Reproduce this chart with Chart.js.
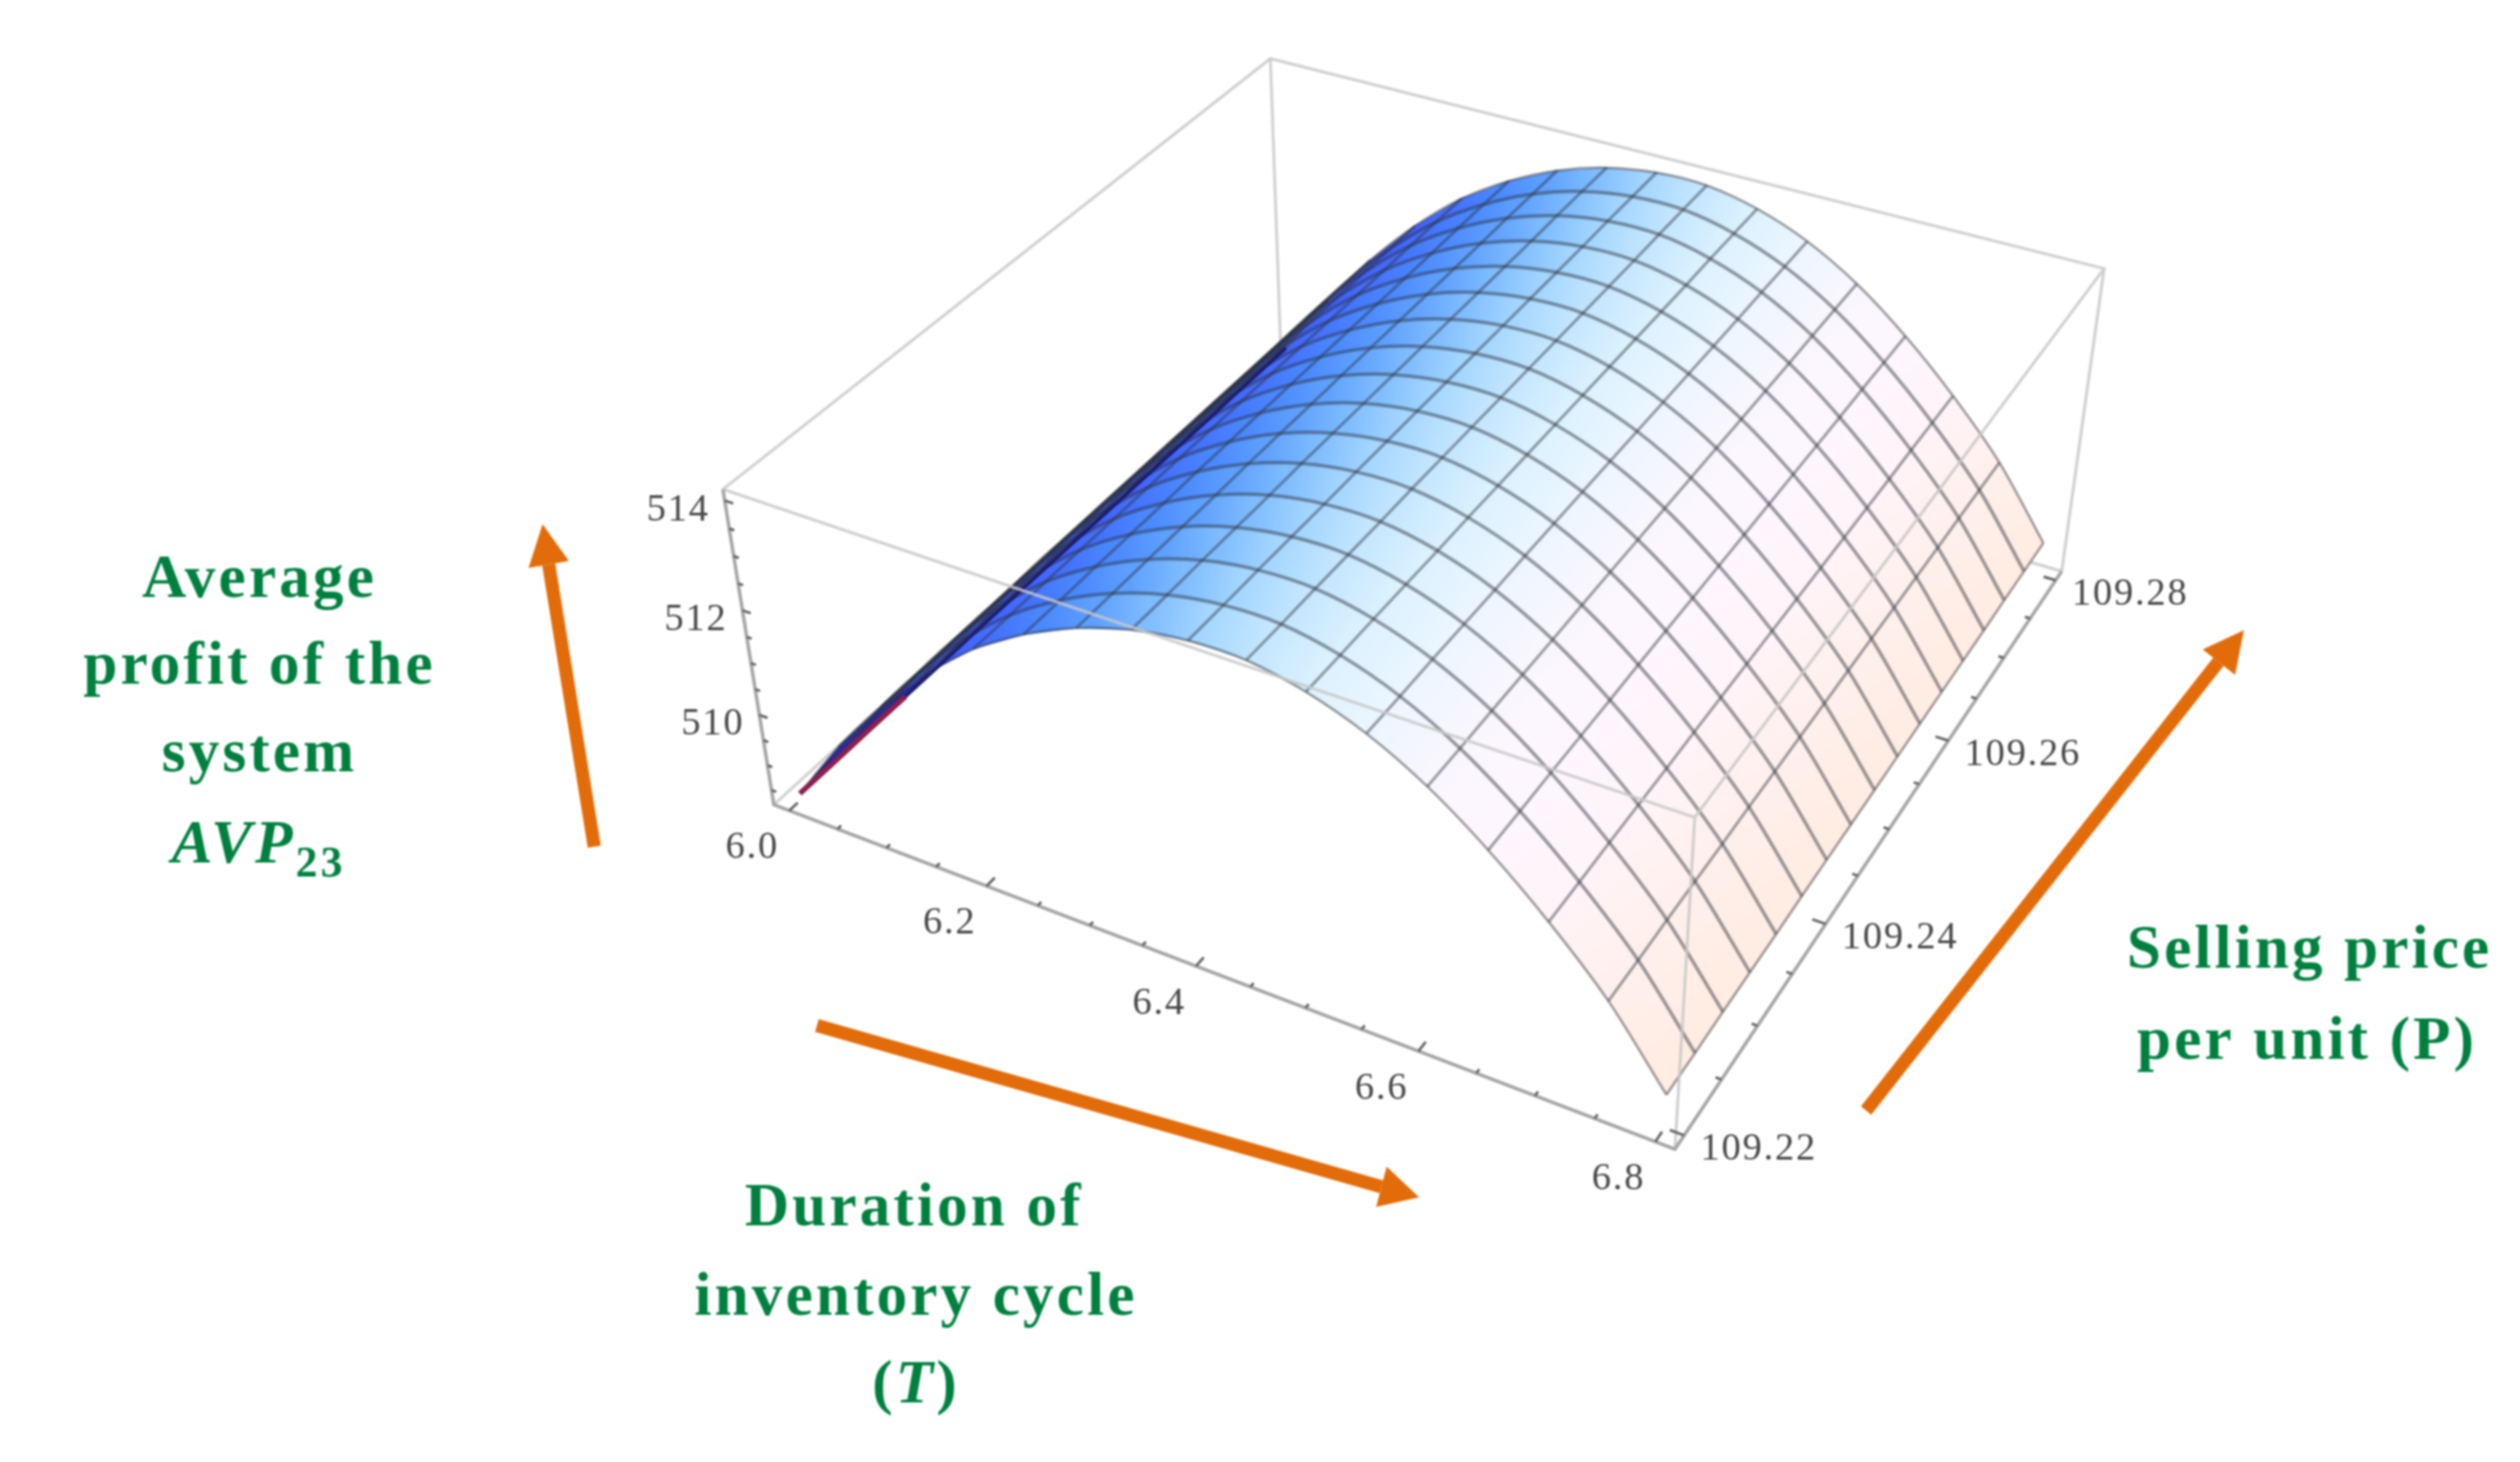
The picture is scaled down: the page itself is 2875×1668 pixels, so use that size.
<!DOCTYPE html>
<html>
<head>
<meta charset="utf-8">
<title>AVP23 surface</title>
<script src="https://cdn.jsdelivr.net/npm/chart.js@4/dist/chart.umd.min.js"></script>
<style>
  html, body { margin: 0; background: #fff; }
  canvas { display: block; filter: blur(1px); }
</style>
</head>
<body>
<canvas id="surface" width="2875" height="1668"></canvas>
<script>
// mesh nodes of the surface
const cycleT = [6.0, 6.05, 6.1, 6.15, 6.2, 6.25, 6.3, 6.35, 6.4, 6.45, 6.5, 6.55, 6.6, 6.65, 6.7, 6.75, 6.8];
const priceP = [109.22, 109.22375, 109.2275, 109.23125, 109.235, 109.23875, 109.2425, 109.24625, 109.25, 109.25375, 109.2575, 109.26125, 109.265, 109.26875, 109.2725, 109.27625, 109.28];

// AVP23, one row per price, one column per cycle length
const profit = [
  [508.33, 509.63, 510.76, 511.73, 512.53, 513.13, 513.58, 513.88, 514.03, 514.03, 513.83, 513.46, 512.90, 512.15, 511.25, 510.20, 508.85],
  [508.33, 509.63, 510.76, 511.73, 512.53, 513.13, 513.58, 513.88, 514.03, 514.03, 513.83, 513.46, 512.90, 512.15, 511.25, 510.20, 508.85],
  [508.34, 509.64, 510.77, 511.74, 512.54, 513.14, 513.59, 513.89, 514.04, 514.04, 513.84, 513.47, 512.91, 512.16, 511.26, 510.21, 508.86],
  [508.34, 509.64, 510.77, 511.74, 512.54, 513.14, 513.59, 513.89, 514.04, 514.04, 513.84, 513.47, 512.91, 512.16, 511.26, 510.21, 508.86],
  [508.34, 509.64, 510.77, 511.74, 512.54, 513.14, 513.59, 513.89, 514.04, 514.04, 513.84, 513.47, 512.91, 512.16, 511.26, 510.21, 508.86],
  [508.35, 509.65, 510.78, 511.75, 512.55, 513.15, 513.60, 513.90, 514.05, 514.05, 513.85, 513.48, 512.92, 512.17, 511.27, 510.22, 508.87],
  [508.35, 509.65, 510.78, 511.75, 512.55, 513.15, 513.60, 513.90, 514.05, 514.05, 513.85, 513.48, 512.92, 512.17, 511.27, 510.22, 508.87],
  [508.35, 509.65, 510.78, 511.75, 512.55, 513.15, 513.60, 513.90, 514.05, 514.05, 513.85, 513.48, 512.92, 512.17, 511.27, 510.22, 508.87],
  [508.35, 509.65, 510.78, 511.75, 512.55, 513.15, 513.60, 513.90, 514.05, 514.05, 513.85, 513.48, 512.92, 512.17, 511.27, 510.22, 508.87],
  [508.35, 509.65, 510.78, 511.75, 512.55, 513.15, 513.60, 513.90, 514.05, 514.05, 513.85, 513.48, 512.92, 512.17, 511.27, 510.22, 508.87],
  [508.35, 509.65, 510.78, 511.75, 512.55, 513.15, 513.60, 513.90, 514.05, 514.05, 513.85, 513.48, 512.92, 512.17, 511.27, 510.22, 508.87],
  [508.35, 509.65, 510.78, 511.75, 512.55, 513.15, 513.60, 513.90, 514.05, 514.05, 513.85, 513.48, 512.92, 512.17, 511.27, 510.22, 508.87],
  [508.35, 509.65, 510.78, 511.75, 512.55, 513.15, 513.60, 513.90, 514.05, 514.05, 513.85, 513.48, 512.92, 512.17, 511.27, 510.22, 508.87],
  [508.35, 509.65, 510.78, 511.75, 512.55, 513.15, 513.60, 513.90, 514.05, 514.05, 513.85, 513.48, 512.92, 512.17, 511.27, 510.22, 508.87],
  [508.36, 509.66, 510.79, 511.76, 512.56, 513.16, 513.61, 513.91, 514.06, 514.06, 513.86, 513.49, 512.93, 512.18, 511.28, 510.23, 508.88],
  [508.36, 509.66, 510.79, 511.76, 512.56, 513.16, 513.61, 513.91, 514.06, 514.06, 513.86, 513.49, 512.93, 512.18, 511.28, 510.23, 508.88],
  [508.36, 509.66, 510.79, 511.76, 512.56, 513.16, 513.61, 513.91, 514.06, 514.06, 513.86, 513.49, 512.93, 512.18, 511.28, 510.23, 508.88]
];

// axis ticks
const tLabels = ["6.0", "6.2", "6.4", "6.6", "6.8"];
const pLabels = ["109.22", "109.24", "109.26", "109.28"];
const zLabels = ["510", "512", "514"];
const tMinor = [6.05, 6.1, 6.15, 6.25, 6.3, 6.35, 6.45, 6.5, 6.55, 6.65, 6.7, 6.75];
const pMinor = [109.225, 109.23, 109.235, 109.245, 109.25, 109.255, 109.265, 109.27, 109.275];
const zMinor = [508.5, 509, 509.5, 510.5, 511, 511.5, 512.5, 513, 513.5];

// box limits (plot range + padding)
const boxT = [5.984, 6.816];
const boxP = [109.2188, 109.2812];
const boxZ = [508.2, 514.2];

// where box corners land in the plot: u, v, w in box fractions, then x, y
const corners = [
  [0, 0, 1, 825, 557], [1, 0, 1, 1933, 933], [1, 1, 1, 2401, 307], [0, 1, 1, 1449, 67],
  [0, 0, 0, 883, 919], [1, 0, 0, 1911, 1311], [1, 1, 0, 2352, 651]
];

// surface colour at each cycle node
const shades = ["#20208a", "#2e2fc0", "#3a48f0", "#3f5cff", "#4470ff", "#4a88ff", "#5ea0ff", "#7fbcff", "#a4d6ff",
  "#c4e6ff", "#dcf2ff", "#ecf6ff", "#faf6ff", "#fef6ff", "#fff4f8", "#fff0ec", "#ffece2"];

// least squares fit of the projective camera to the corners
function fitCamera(pts) {
  const rows = [];
  pts.forEach(([u, v, w, px, py]) => {
    const x = px / 1000, y = py / 1000;
    rows.push([u, v, w, 1, 0, 0, 0, 0, -x * u, -x * v, -x * w, x]);
    rows.push([0, 0, 0, 0, u, v, w, 1, -y * u, -y * v, -y * w, y]);
  });
  const n = 11;
  const m = [];
  for (let a = 0; a < n; a++) {
    m.push([]);
    for (let b = 0; b <= n; b++) {
      let s = 0;
      rows.forEach(r => { s += r[a] * r[b]; });
      m[a].push(s);
    }
  }
  for (let c = 0; c < n; c++) {
    let best = c;
    for (let r = c + 1; r < n; r++) if (Math.abs(m[r][c]) > Math.abs(m[best][c])) best = r;
    [m[c], m[best]] = [m[best], m[c]];
    for (let r = 0; r < n; r++) {
      if (r === c) continue;
      const f = m[r][c] / m[c][c];
      for (let k = c; k <= n; k++) m[r][k] -= f * m[c][k];
    }
  }
  return m.map((r, i) => r[n] / r[i]);
}

const cam = fitCamera(corners);

function project(T, P, Z) {
  const u = (T - boxT[0]) / (boxT[1] - boxT[0]);
  const v = (P - boxP[0]) / (boxP[1] - boxP[0]);
  const w = (Z - boxZ[0]) / (boxZ[1] - boxZ[0]);
  const d = cam[8] * u + cam[9] * v + cam[10] * w + 1;
  return {
    x: 1000 * (cam[0] * u + cam[1] * v + cam[2] * w + cam[3]) / d,
    y: 1000 * (cam[4] * u + cam[5] * v + cam[6] * w + cam[7]) / d
  };
}

const GAP = { x: NaN, y: NaN };
const datasets = [];

function addLine(data, opts) {
  datasets.push(Object.assign({
    data: data,
    showLine: true,
    pointRadius: 0,
    fill: false,
    tension: 0,
    spanGaps: false,
    order: -datasets.length
  }, opts));
}

const [t0, t1] = boxT, [p0, p1] = boxP, [z0, z1] = boxZ;

// --- 1. box edges behind the surface ---
addLine([
  project(t0, p1, z1), project(t0, p1, z0), GAP,
  project(t0, p0, z0), project(t0, p1, z0), project(t1, p1, z0)
], { borderColor: "#d2d2d2", borderWidth: 3.4 });

// --- 2. surface cells, far ones first ---
function cellGradient(chart, i, j) {
  const { ctx, scales } = chart;
  if (!chart.chartArea) return shades[i];
  const a = project(cycleT[i], (priceP[j] + priceP[j + 1]) / 2, (profit[j][i] + profit[j + 1][i]) / 2);
  const b = project(cycleT[i + 1], (priceP[j] + priceP[j + 1]) / 2, (profit[j][i + 1] + profit[j + 1][i + 1]) / 2);
  const g = ctx.createLinearGradient(scales.x.getPixelForValue(a.x), scales.y.getPixelForValue(a.y),
    scales.x.getPixelForValue(b.x), scales.y.getPixelForValue(b.y));
  g.addColorStop(0, shades[i]);
  g.addColorStop(1, shades[i + 1]);
  return g;
}

for (let j = priceP.length - 2; j >= 0; j--) {
  for (let i = 0; i < cycleT.length - 1; i++) {
    const paint = ctx => cellGradient(ctx.chart, i, j);
    addLine([
      project(cycleT[i], priceP[j], profit[j][i]),
      project(cycleT[i + 1], priceP[j], profit[j][i + 1]),
      project(cycleT[i + 1], priceP[j + 1], profit[j + 1][i + 1]),
      project(cycleT[i], priceP[j + 1], profit[j + 1][i]),
      project(cycleT[i], priceP[j], profit[j][i])
    ], { fill: "shape", backgroundColor: paint, borderColor: paint, borderWidth: 1.2 });
  }
}

// --- 3. mesh lines ---
priceP.forEach((P, j) => {
  const edge = j === 0 || j === priceP.length - 1;
  addLine(cycleT.map((T, i) => project(T, P, profit[j][i])), {
    borderColor: edge ? "rgba(70,70,70,0.5)" : "rgba(45,50,60,0.47)",
    borderWidth: edge ? 3 : 4,
    tension: 0.3
  });
});
cycleT.forEach((T, i) => {
  const edge = i === 0 || i === cycleT.length - 1;
  addLine(priceP.map((P, j) => project(T, P, profit[j][i])), {
    borderColor: i === 0 ? "#1c1c6e" : edge ? "rgba(70,70,70,0.5)" : "rgba(45,50,60,0.45)",
    borderWidth: i === 0 ? 4 : edge ? 3 : 3.4,
    segment: i === 0 ? {
      borderColor: c => (c.p0DataIndex < 3 ? "#8c1f4e" : undefined),
      borderWidth: c => (c.p0DataIndex < 3 ? 6 : undefined)
    } : undefined
  });
});

// --- 4. box edges in front ---
addLine([
  project(t0, p0, z1), project(t1, p0, z1), project(t1, p1, z1), project(t0, p1, z1), project(t0, p0, z1), GAP,
  project(t1, p0, z1), project(t1, p0, z0), GAP,
  project(t1, p1, z1), project(t1, p1, z0)
], { borderColor: "rgba(200,200,200,0.85)", borderWidth: 3.4 });

// --- 5. axes and ticks ---
addLine([
  project(t0, p0, z1), project(t0, p0, z0), project(t1, p0, z0), project(t1, p1, z0)
], { borderColor: "#a6a6a6", borderWidth: 4 });

const tickPts = [];
function addTick(a, b) { tickPts.push(a, b, GAP); }
const tMajor = tLabels.map(Number), pMajor = pLabels.map(Number), zMajor = zLabels.map(Number);
tMajor.forEach(T => addTick(project(T, p0, z0), project(T, p0 + 0.014 * (p1 - p0), z0)));
tMinor.forEach(T => addTick(project(T, p0, z0), project(T, p0 + 0.006 * (p1 - p0), z0)));
pMajor.forEach(P => addTick(project(t1, P, z0), project(t1 - 0.014 * (t1 - t0), P, z0)));
pMinor.forEach(P => addTick(project(t1, P, z0), project(t1 - 0.006 * (t1 - t0), P, z0)));
zMajor.forEach(Z => addTick(project(t0, p0, Z), project(t0 + 0.01 * (t1 - t0), p0, Z)));
zMinor.forEach(Z => addTick(project(t0, p0, Z), project(t0 + 0.006 * (t1 - t0), p0, Z)));
addLine(tickPts, { borderColor: "#666666", borderWidth: 3 });

// --- 6. tick labels, annotations ---
const GREEN = "#00803f";
const ORANGE = "#e36c0a";
const TITLE = 'bold 70px "Liberation Serif"';
const TITLE_IT = 'italic bold 70px "Liberation Serif"';
const SUB = 'bold 50px "Liberation Serif"';

const annotations = [
  { cx: 296, y: 681, runs: [["Average", TITLE]] },
  { cx: 296, y: 780, runs: [["profit of the", TITLE]] },
  { cx: 296, y: 880, runs: [["system", TITLE]] },
  { cx: 295, y: 984, runs: [["AVP", TITLE_IT], ["23", SUB, 16]] },
  { cx: 1043, y: 1398, runs: [["Duration of", TITLE]] },
  { cx: 1045, y: 1500, runs: [["inventory cycle", TITLE]] },
  { cx: 1045, y: 1600, runs: [["(", TITLE], ["T", TITLE_IT], [")", TITLE]] },
  { cx: 2635, y: 1104, runs: [["Selling price", TITLE]] },
  { cx: 2632, y: 1208, runs: [["per unit (P)", TITLE]] }
];

// tail, tip, and the two back corners of each head
const arrows = [
  { tail: [678, 966], neck: [626, 644], tip: [619, 598], h1: [603, 648], h2: [649, 640] },
  { tail: [932, 1170], neck: [1576, 1354], tip: [1619, 1366], h1: [1582, 1331], h2: [1570, 1377] },
  { tail: [2129, 1267], neck: [2531, 755], tip: [2560, 719], h1: [2513, 741], h2: [2550, 770] }
];

const labelPlugin = {
  id: "labelPlugin",
  afterDatasetsDraw(chart) {
    const { ctx, scales } = chart;
    const px = p => [scales.x.getPixelForValue(p.x), scales.y.getPixelForValue(p.y)];
    ctx.save();

    ctx.fillStyle = "#484848";
    ctx.font = '44px "Liberation Serif"';
    ctx.letterSpacing = "2px";
    ctx.textAlign = "center";
    ctx.textBaseline = "middle";
    const put = (text, p, dx, dy) => {
      const [x, y] = px(p);
      ctx.fillText(text, x + dx, y + dy);
    };
    tLabels.forEach(s => put(s, project(Number(s), p0, z0), -42, 43));
    pLabels.forEach(s => put(s, project(t1, Number(s), z0), 85, 16));
    zLabels.forEach(s => put(s, project(t0, p0, Number(s)), -53, 11));

    ctx.strokeStyle = ORANGE;
    ctx.fillStyle = ORANGE;
    ctx.lineWidth = 15;
    arrows.forEach(a => {
      ctx.beginPath();
      ctx.moveTo(a.tail[0], a.tail[1]);
      ctx.lineTo(a.neck[0], a.neck[1]);
      ctx.stroke();
      ctx.beginPath();
      ctx.moveTo(a.tip[0], a.tip[1]);
      ctx.lineTo(a.h1[0], a.h1[1]);
      ctx.lineTo(a.h2[0], a.h2[1]);
      ctx.closePath();
      ctx.fill();
    });

    ctx.fillStyle = GREEN;
    ctx.textAlign = "left";
    ctx.textBaseline = "alphabetic";
    ctx.letterSpacing = "3.5px";
    annotations.forEach(a => {
      let w = 0;
      a.runs.forEach(r => { ctx.font = r[1]; w += ctx.measureText(r[0]).width; });
      let x = a.cx - w / 2;
      a.runs.forEach(r => {
        ctx.font = r[1];
        ctx.fillText(r[0], x, a.y + (r[2] || 0));
        x += ctx.measureText(r[0]).width;
      });
    });
    ctx.restore();
  }
};

new Chart(document.getElementById("surface").getContext("2d"), {
  type: "scatter",
  data: { datasets: datasets },
  plugins: [labelPlugin],
  options: {
    responsive: false,
    animation: false,
    events: [],
    layout: { padding: 0 },
    plugins: { legend: { display: false }, tooltip: { enabled: false } },
    scales: {
      x: { type: "linear", min: 0, max: 2875, display: false },
      y: { type: "linear", min: 0, max: 1668, reverse: true, display: false }
    }
  }
});
</script>
</body>
</html>
